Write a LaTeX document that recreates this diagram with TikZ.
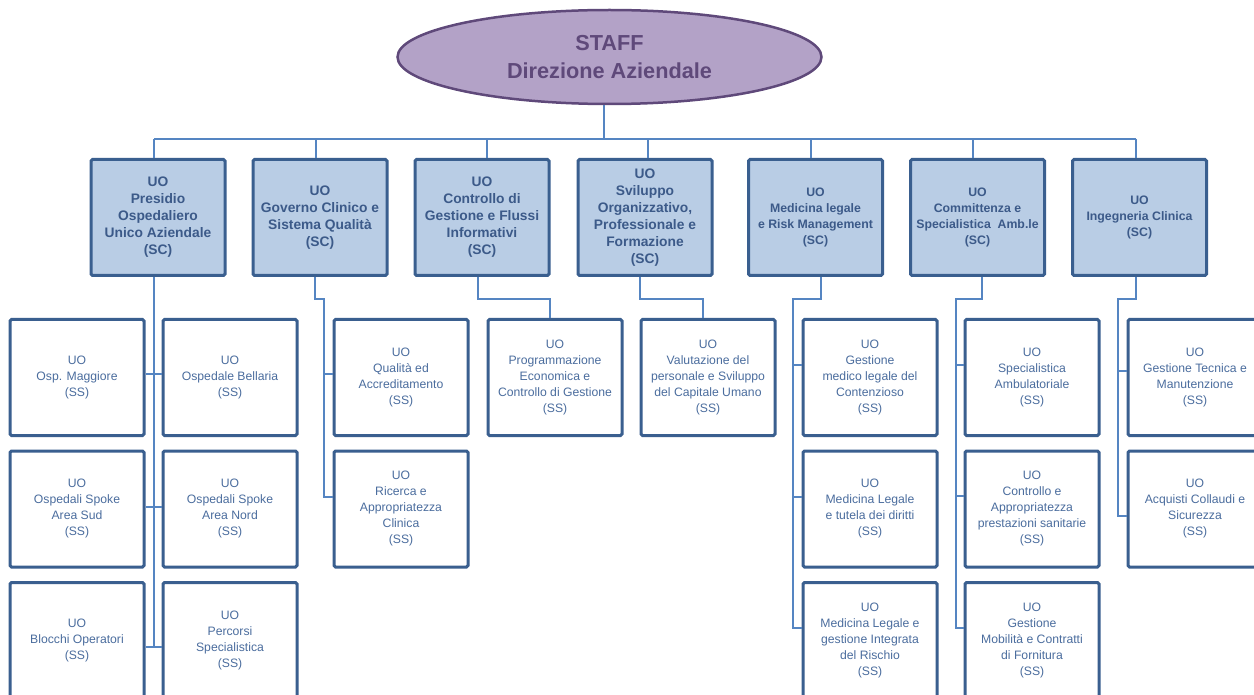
\documentclass[tikz,border=0pt]{standalone}
\usepackage{fontspec}
\setmainfont{Liberation Sans}
\usetikzlibrary{shapes.geometric,calc}
\definecolor{boxdark}{HTML}{3A5F8F}
\definecolor{scfill}{HTML}{B9CDE5}
\definecolor{sctext}{HTML}{3C5A89}
\definecolor{sstext}{HTML}{4B6D9E}
\definecolor{linecol}{HTML}{5585C2}
\definecolor{ellfill}{HTML}{B3A2C7}
\definecolor{elldark}{HTML}{5F497A}
\begin{document}
\begin{tikzpicture}[x=1pt,y=-1pt,
  topnode/.style={ellipse, draw=elldark, line width=2.5pt, fill=ellfill, minimum width=424pt, minimum height=94pt, inner sep=0pt, text=elldark, align=center, font=\fontsize{21.7}{28}\selectfont\bfseries},
  sc/.style={draw=boxdark, line width=3pt, fill=scfill, rounded corners=1.5pt, minimum width=134pt, minimum height=116pt, inner sep=0pt, align=center, text=sctext, font=\fontsize{13.8}{17}\selectfont\bfseries},
  scs/.style={sc, font=\fontsize{12.3}{16.3}\selectfont\bfseries},
  ss/.style={draw=boxdark, line width=3pt, fill=white, rounded corners=1.5pt, minimum width=134pt, minimum height=116pt, inner sep=0pt, align=center, text=sstext, font=\fontsize{12.2}{16}\selectfont},
  conn/.style={draw=linecol, line width=1.4pt}]
\useasboundingbox (0,0) rectangle (1254,695);
\fill[white] (0,0) rectangle (1254,695);

% top
\node[topnode] (top) at (609.5,57) {STAFF\\Direzione Aziendale};

% SC row
\node[sc] (sc1) at (158,217.5) {UO\\Presidio\\Ospedaliero\\Unico Aziendale\\(SC)};
\node[sc] (sc2) at (320,217.5) {UO\\Governo Clinico e\\Sistema Qualità\\(SC)};
\node[sc] (sc3) at (482,217.5) {UO\\Controllo di\\Gestione e Flussi\\Informativi\\(SC)};
\node[sc] (sc4) at (645,217.5) {UO\\Sviluppo\\Organizzativo,\\Professionale e\\Formazione\\(SC)};
\node[scs] (sc5) at (815.5,217.5) {UO\\Medicina legale\\e Risk Management\\(SC)};
\node[scs] (sc6) at (977.5,217.5) {UO\\Committenza e\\Specialistica\ \ Amb.le\\(SC)};
\node[scs] (sc7) at (1139.5,217.5) {UO\\Ingegneria Clinica\\(SC)};

% SS boxes
\node[ss] (ssA1) at (77,377.5) {UO\\Osp. Maggiore\\(SS)};
\node[ss] (ssB1) at (230,377.5) {UO\\Ospedale Bellaria\\(SS)};
\node[ss] (ssA2) at (77,509) {UO\\Ospedali Spoke\\Area Sud\\(SS)};
\node[ss] (ssB2) at (230,509) {UO\\Ospedali Spoke\\Area Nord\\(SS)};
\node[ss] (ssA3) at (77,640.5) {UO\\Blocchi Operatori\\(SS)};
\node[ss] (ssB3) at (230,640.5) {UO\\Percorsi\\Specialistica\\(SS)};

\node[ss] (ss21) at (401,377.5) {UO\\Qualità ed\\Accreditamento\\(SS)};
\node[ss] (ss22) at (401,509) {UO\\Ricerca e\\Appropriatezza\\Clinica\\(SS)};

\node[ss] (ss31) at (555,377.5) {UO\\Programmazione\\Economica e\\Controllo di Gestione\\(SS)};
\node[ss] (ss41) at (708,377.5) {UO\\Valutazione del\\personale e Sviluppo\\del Capitale Umano\\(SS)};

\node[ss] (ss51) at (870,377.5) {UO\\Gestione\\medico legale del\\Contenzioso\\(SS)};
\node[ss] (ss52) at (870,509) {UO\\Medicina Legale\\e tutela dei diritti\\(SS)};
\node[ss] (ss53) at (870,640.5) {UO\\Medicina Legale e\\gestione Integrata\\del Rischio\\(SS)};

\node[ss] (ss61) at (1032,377.5) {UO\\Specialistica\\Ambulatoriale\\(SS)};
\node[ss] (ss62) at (1032,509) {UO\\Controllo e\\Appropriatezza\\prestazioni sanitarie\\(SS)};
\node[ss] (ss63) at (1032,640.5) {UO\\Gestione\\Mobilità e Contratti\\di Fornitura\\(SS)};

\node[ss] (ss71) at (1195,377.5) {UO\\Gestione Tecnica e\\Manutenzione\\(SS)};
\node[ss] (ss72) at (1195,509) {UO\\Acquisti Collaudi e\\Sicurezza\\(SS)};

% top connectors
\coordinate (d0) at (604,139);
\coordinate (d1) at (154,139);
\coordinate (d2) at (316,139);
\coordinate (d3) at (487,139);
\coordinate (d4) at (648,139);
\coordinate (d5) at (811,139);
\coordinate (d6) at (973,139);
\coordinate (d7) at (1136,139);
\draw[conn] (top.south -| d0) -- (d0);
\draw[conn] (d1) -- (d7);
\foreach \i in {1,...,7} {\draw[conn] (d\i) -- (d\i |- sc\i.north);}

% column 1
\coordinate (t1) at (154,647);
\draw[conn] ([xshift=-4pt]sc1.south) -- (t1);
\coordinate (s11) at (154,374);
\coordinate (s12) at (154,507);
\draw[conn] (s11 -| ssA1.east) -- (s11 -| ssB1.west);
\draw[conn] (s12 -| ssA2.east) -- (s12 -| ssB2.west);
\draw[conn] (t1 -| ssA3.east) -- (t1 -| ssB3.west);

% column 2
\coordinate (b2) at (324,299);
\coordinate (s21) at (324,374);
\coordinate (s22) at (324,497);
\draw[conn] ([xshift=-5pt]sc2.south) |- (b2) -- (s22) -- (s22 -| ss22.west);
\draw[conn] (s21) -- (s21 -| ss21.west);

% column 3
\coordinate (b3) at (550,299);
\draw[conn] ([xshift=-4pt]sc3.south) |- (b3) -- (b3 |- ss31.north);

% column 4
\coordinate (b4) at (703,299);
\draw[conn] ([xshift=-5pt]sc4.south) |- (b4) -- (b4 |- ss41.north);

% column 5
\coordinate (b5) at (793,299);
\coordinate (s51) at (793,365);
\coordinate (s52) at (793,497);
\coordinate (s53) at (793,628);
\draw[conn] ([xshift=5.5pt]sc5.south) |- (b5) -- (s53) -- (s53 -| ss53.west);
\draw[conn] (s51) -- (s51 -| ss51.west);
\draw[conn] (s52) -- (s52 -| ss52.west);

% column 6
\coordinate (b6) at (956,299);
\coordinate (s61) at (956,365);
\coordinate (s62) at (956,496);
\coordinate (s63) at (956,628);
\draw[conn] ([xshift=4.5pt]sc6.south) |- (b6) -- (s63) -- (s63 -| ss63.west);
\draw[conn] (s61) -- (s61 -| ss61.west);
\draw[conn] (s62) -- (s62 -| ss62.west);

% column 7
\coordinate (b7) at (1118,299);
\coordinate (s71) at (1118,371);
\coordinate (s72) at (1118,516);
\draw[conn] ([xshift=-3.5pt]sc7.south) |- (b7) -- (s72) -- (s72 -| ss72.west);
\draw[conn] (s71) -- (s71 -| ss71.west);
\end{tikzpicture}
\end{document}
